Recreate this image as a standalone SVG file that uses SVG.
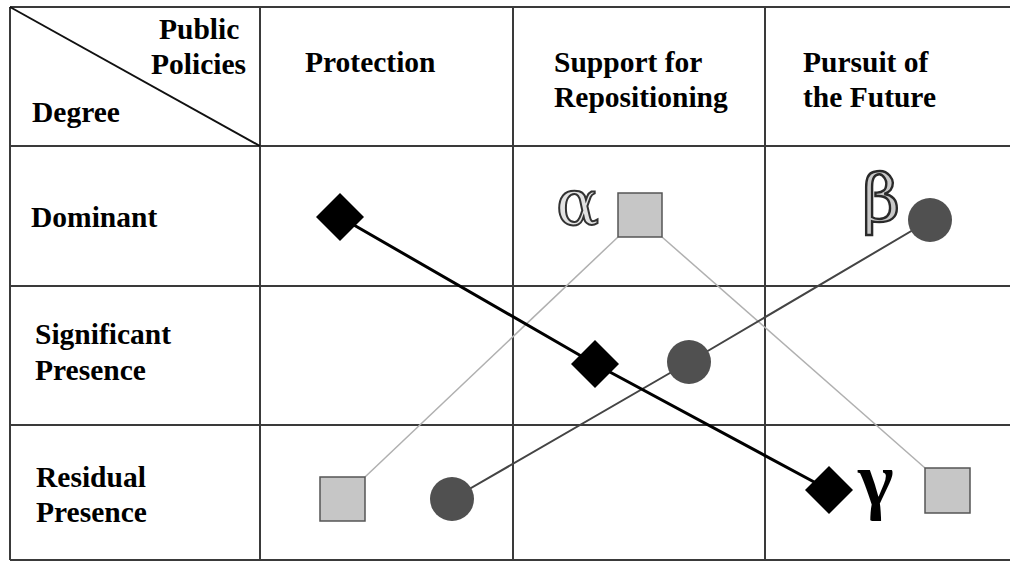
<svg xmlns="http://www.w3.org/2000/svg" width="1010" height="562" viewBox="0 0 1010 562">
<style>
.lbl{font-family:"Liberation Serif","Times New Roman",serif;font-weight:bold;font-size:29.5px;fill:#000}
.grid{stroke:#3a3a3a;stroke-width:2;fill:none}
.sq{fill:#c6c6c6;stroke:#555;stroke-width:1.5}
.dot{fill:#505050}
.dia{fill:#000}
.greek{font-family:"DejaVu Serif",serif}
</style>
<rect x="0" y="0" width="1010" height="562" fill="#fff"/>
<g id="table">
<line class="grid" x1="10" y1="7" x2="1010" y2="7"/>
<line class="grid" x1="10" y1="146" x2="1010" y2="146"/>
<line class="grid" x1="10" y1="286" x2="1010" y2="286"/>
<line class="grid" x1="10" y1="425" x2="1010" y2="425"/>
<line class="grid" x1="10" y1="560" x2="1010" y2="560"/>
<line class="grid" x1="10" y1="7" x2="10" y2="560"/>
<line class="grid" x1="260" y1="7" x2="260" y2="560"/>
<line class="grid" x1="513" y1="7" x2="513" y2="560"/>
<line class="grid" x1="765" y1="7" x2="765" y2="560"/>
<line x1="10" y1="7" x2="260" y2="146" stroke="#111" stroke-width="2"/>
</g>
<g id="labels">
<text class="lbl" x="159" y="39">Public</text>
<text class="lbl" x="151" y="74">Policies</text>
<text class="lbl" x="32" y="122">Degree</text>
<text class="lbl" x="305" y="72">Protection</text>
<text class="lbl" x="554" y="72">Support for</text>
<text class="lbl" x="554" y="107">Repositioning</text>
<text class="lbl" x="803" y="72">Pursuit of</text>
<text class="lbl" x="803" y="107">the Future</text>
<text class="lbl" x="31" y="227">Dominant</text>
<text class="lbl" x="35" y="344">Significant</text>
<text class="lbl" x="35" y="380">Presence</text>
<text class="lbl" x="36" y="487">Residual</text>
<text class="lbl" x="36" y="522">Presence</text>
</g>
<g id="connectors">
<line x1="618" y1="237" x2="365" y2="477" stroke="#b0b0b0" stroke-width="1.5"/>
<line x1="662" y1="237" x2="925" y2="468" stroke="#b0b0b0" stroke-width="1.5"/>
<polyline points="452,499 689,362 930,220" fill="none" stroke="#444" stroke-width="2"/>
<polyline points="340,217 595,364 829,490" fill="none" stroke="#000" stroke-width="3"/>
</g>
<g id="alpha">
<text class="greek" x="556" y="225" font-size="64" fill="#e2e2e2" stroke="#333" stroke-width="2">α</text>
<rect class="sq" x="618" y="193" width="44" height="44"/>
</g>
<g id="beta">
<text class="greek" x="862" y="221" font-size="66" fill="#c8c8c8" stroke="#2a2a2a" stroke-width="2.4">β</text>
<circle class="dot" cx="930" cy="220" r="22"/>
</g>
<g id="gamma">
<text x="858" y="505" font-family="Liberation Serif, Times New Roman, serif" font-size="76" font-weight="bold" fill="#000">γ</text>
<rect class="sq" x="925" y="468" width="45" height="45"/>
</g>
<g id="dominant-diamond"><polygon class="dia" points="340,193 364,217 340,241 316,217"/></g>
<g id="significant-diamond"><polygon class="dia" points="595,340 619,364 595,388 571,364"/></g>
<g id="residual-diamond"><polygon class="dia" points="829,466 853,490 829,514 805,490"/></g>
<g id="significant-circle"><circle class="dot" cx="689" cy="362" r="22"/></g>
<g id="residual-circle"><circle class="dot" cx="452" cy="499" r="22"/></g>
<g id="residual-square"><rect class="sq" x="320" y="477" width="45" height="44"/></g>
</svg>
